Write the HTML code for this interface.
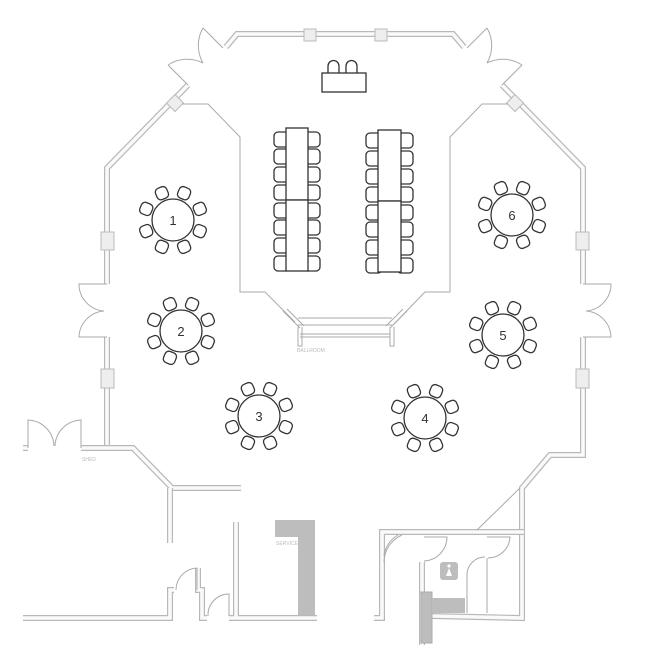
<!DOCTYPE html>
<html><head><meta charset="utf-8"><style>
html,body{margin:0;padding:0;background:#fff}
svg{display:block}
.wo{fill:none;stroke:#b8b8b8;stroke-width:6;stroke-linejoin:miter}
.wi{fill:none;stroke:#fafafa;stroke-width:3.6;stroke-linejoin:miter}
.t{fill:none;stroke:#aaa;stroke-width:1}
.f{fill:#fff;stroke:#333;stroke-width:1.3}
.n{font-family:"Liberation Sans",sans-serif;font-size:13px;fill:#333;text-anchor:middle}
.lb{font-family:"Liberation Sans",sans-serif;font-size:5px;fill:#bbb}
.win{fill:#eee;stroke:#bbb;stroke-width:1}
</style></head><body>
<svg width="660" height="660" viewBox="0 0 660 660" xmlns="http://www.w3.org/2000/svg">
<defs>
<path id="w1" d="M226,47 L237,34 L453,34 L464,47"/>
<path id="w2" d="M188,85 L107,168 L107,284"/>
<path id="w2r" d="M502,85 L583,168 L583,284"/>
<path id="w3" d="M107,337 L107,448 L133,448 L172,488 L241,488"/>
<path id="w4" d="M170,488 L170,543"/>
<path id="w5" d="M23,618 L170,618 L170,590 L174,590"/>
<path id="w6" d="M198,568 L198,590 L202,590 L202,618 L207,618"/>
<path id="w7" d="M229,618 L317,618 M236,522 L236,618"/>
<path id="w8" d="M81,448 L133,448"/>
<path id="w9" d="M583,337 L583,455 L550,455 L522,488 L522,618 L432,616"/>
<path id="w10" d="M374,618 L382,618 L382,532 L524,532"/>
<path id="w11" d="M422,562 L422,645"/>
<path id="w12" d="M23,448 L28,448"/>
<rect id="ch" x="-6" y="-35" width="12" height="12" rx="4"/>
</defs>
<g>
<use href="#w1" class="wo"/><use href="#w1" class="wi"/>
<use href="#w2" class="wo"/><use href="#w2" class="wi"/>
<use href="#w2r" class="wo"/><use href="#w2r" class="wi"/>
<use href="#w3" class="wo"/><use href="#w3" class="wi"/>
<use href="#w4" class="wo"/><use href="#w4" class="wi"/>
<use href="#w5" class="wo"/><use href="#w5" class="wi"/>
<use href="#w6" class="wo"/><use href="#w6" class="wi"/>
<use href="#w7" class="wo"/><use href="#w7" class="wi"/>
<use href="#w8" class="wo"/><use href="#w8" class="wi"/>
<use href="#w9" class="wo"/><use href="#w9" class="wi"/>
<use href="#w10" class="wo"/><use href="#w10" class="wi"/>
<use href="#w11" class="wo"/><use href="#w11" class="wi"/>
<use href="#w12" class="wo"/><use href="#w12" class="wi"/>
</g>
<!-- windows -->
<rect class="win" x="304" y="29" width="12" height="12"/>
<rect class="win" x="375" y="29" width="12" height="12"/>
<rect class="win" x="101" y="232" width="13" height="18"/>
<rect class="win" x="101" y="369" width="13" height="19"/>
<rect class="win" x="576" y="232" width="13" height="18"/>
<rect class="win" x="576" y="369" width="13" height="19"/>
<rect class="win" x="169" y="97" width="12" height="12" transform="rotate(45 175 103)"/>
<rect class="win" x="509" y="97" width="12" height="12" transform="rotate(-45 515 103)"/>
<!-- doors -->
<g class="t">
<path d="M203,28 L223,48 M203,28 A35,35 0 0 0 203,63 M168,65 L188,85 M168,65 A35,35 0 0 1 203,63"/>
<path d="M487,28 L467,48 M487,28 A35,35 0 0 1 487,63 M522,65 L502,85 M522,65 A35,35 0 0 0 487,63"/>
<path d="M107,284 H79 A27,27 0 0 0 104,311 M107,337 H79 A27,27 0 0 1 104,311"/>
<path d="M583,284 H611 A27,27 0 0 1 586,311 M583,337 H611 A27,27 0 0 0 586,311"/>
<path d="M28,448 V420 A27,27 0 0 1 54,446 M81,448 V420 A27,27 0 0 0 55,446"/>
<path d="M197,590 V568 A22,22 0 0 0 176,590 M229,616 V594 A21,21 0 0 0 208,616"/>
<path d="M424,537 H447 A24,24 0 0 1 424,561 M487,537 H510 A22,22 0 0 1 488,558 M487,558 V613"/>
<path d="M467,613 V575 A18,18 0 0 1 485,557"/>
<path d="M402,535 A30,30 0 0 0 384,562 M398,535 A28,28 0 0 0 384,556"/>
<path d="M520,488 L477,530"/>
<!-- inner ballroom outline -->
<path d="M182,104 L208,104 L240,137 L240,292 L265,292 L295,322"/>
<path d="M508,104 L482,104 L450,137 L450,292 L425,292 L393,325"/>
<!-- stage -->
<path d="M283,311 L300,328 M287,309 L304,326 M407,311 L390,328 M403,309 L386,326"/>
<path d="M298,318 H392 M298,325 H392 M300,334 H390 M300,337 H390"/>
<path d="M298,327 V346 H302 V327 M390,327 V346 H394 V327"/>
</g>
<text class="lb" x="297" y="352">BALLROOM</text>
<text class="lb" x="82" y="461">SHED</text>
<text class="lb" x="276" y="545">SERVICE</text>
<!-- gray areas -->
<path d="M275,520 H315 V615 H298 V537 H275 Z" fill="#bdbdbd"/>
<rect x="421" y="592" width="11" height="51" fill="#bdbdbd" stroke="#aaa"/>
<rect x="432" y="598" width="33" height="15" fill="#bdbdbd"/>
<rect x="440" y="562" width="18" height="18" rx="3" fill="#bdbdbd"/>
<circle cx="449" cy="566" r="1.6" fill="#fff"/>
<path d="M449,568 L446,576 H452 Z" fill="#fff"/>
<!-- head table -->
<g class="f">
<path d="M328,74 V66 A5,5 0 0 1 339,66 V74 Z"/>
<path d="M346,74 V66 A5,5 0 0 1 357,66 V74 Z"/>
<rect x="322" y="73" width="44" height="19"/>
</g>
<!-- banquet tables -->
<g class="f">
<rect x="274" y="132" width="16" height="15" rx="4"/><rect x="274" y="149" width="16" height="15" rx="4"/>
<rect x="274" y="167" width="16" height="15" rx="4"/><rect x="274" y="185" width="16" height="15" rx="4"/>
<rect x="274" y="203" width="16" height="15" rx="4"/><rect x="274" y="220" width="16" height="15" rx="4"/>
<rect x="274" y="238" width="16" height="15" rx="4"/><rect x="274" y="256" width="16" height="15" rx="4"/>
<rect x="304" y="132" width="16" height="15" rx="4"/><rect x="304" y="149" width="16" height="15" rx="4"/>
<rect x="304" y="167" width="16" height="15" rx="4"/><rect x="304" y="185" width="16" height="15" rx="4"/>
<rect x="304" y="203" width="16" height="15" rx="4"/><rect x="304" y="220" width="16" height="15" rx="4"/>
<rect x="304" y="238" width="16" height="15" rx="4"/><rect x="304" y="256" width="16" height="15" rx="4"/>
<rect x="286" y="128" width="22" height="72"/><rect x="286" y="200" width="22" height="71"/>
<rect x="366" y="133" width="16" height="15" rx="4"/><rect x="366" y="151" width="16" height="15" rx="4"/>
<rect x="366" y="169" width="16" height="15" rx="4"/><rect x="366" y="187" width="16" height="15" rx="4"/>
<rect x="366" y="205" width="16" height="15" rx="4"/><rect x="366" y="222" width="16" height="15" rx="4"/>
<rect x="366" y="240" width="16" height="15" rx="4"/><rect x="366" y="258" width="16" height="15" rx="4"/>
<rect x="397" y="133" width="16" height="15" rx="4"/><rect x="397" y="151" width="16" height="15" rx="4"/>
<rect x="397" y="169" width="16" height="15" rx="4"/><rect x="397" y="187" width="16" height="15" rx="4"/>
<rect x="397" y="205" width="16" height="15" rx="4"/><rect x="397" y="222" width="16" height="15" rx="4"/>
<rect x="397" y="240" width="16" height="15" rx="4"/><rect x="397" y="258" width="16" height="15" rx="4"/>
<rect x="378" y="130" width="23" height="71"/><rect x="378" y="201" width="23" height="71"/>
</g>
<!-- round tables -->
<g class="f" transform="translate(173,220)">
<use href="#ch" transform="rotate(22.5)"/><use href="#ch" transform="rotate(67.5)"/><use href="#ch" transform="rotate(112.5)"/><use href="#ch" transform="rotate(157.5)"/><use href="#ch" transform="rotate(202.5)"/><use href="#ch" transform="rotate(247.5)"/><use href="#ch" transform="rotate(292.5)"/><use href="#ch" transform="rotate(337.5)"/>
<circle r="21"/></g>
<g class="f" transform="translate(181,331)">
<use href="#ch" transform="rotate(22.5)"/><use href="#ch" transform="rotate(67.5)"/><use href="#ch" transform="rotate(112.5)"/><use href="#ch" transform="rotate(157.5)"/><use href="#ch" transform="rotate(202.5)"/><use href="#ch" transform="rotate(247.5)"/><use href="#ch" transform="rotate(292.5)"/><use href="#ch" transform="rotate(337.5)"/>
<circle r="21"/></g>
<g class="f" transform="translate(259,416)">
<use href="#ch" transform="rotate(22.5)"/><use href="#ch" transform="rotate(67.5)"/><use href="#ch" transform="rotate(112.5)"/><use href="#ch" transform="rotate(157.5)"/><use href="#ch" transform="rotate(202.5)"/><use href="#ch" transform="rotate(247.5)"/><use href="#ch" transform="rotate(292.5)"/><use href="#ch" transform="rotate(337.5)"/>
<circle r="21"/></g>
<g class="f" transform="translate(425,418)">
<use href="#ch" transform="rotate(22.5)"/><use href="#ch" transform="rotate(67.5)"/><use href="#ch" transform="rotate(112.5)"/><use href="#ch" transform="rotate(157.5)"/><use href="#ch" transform="rotate(202.5)"/><use href="#ch" transform="rotate(247.5)"/><use href="#ch" transform="rotate(292.5)"/><use href="#ch" transform="rotate(337.5)"/>
<circle r="21"/></g>
<g class="f" transform="translate(503,335)">
<use href="#ch" transform="rotate(22.5)"/><use href="#ch" transform="rotate(67.5)"/><use href="#ch" transform="rotate(112.5)"/><use href="#ch" transform="rotate(157.5)"/><use href="#ch" transform="rotate(202.5)"/><use href="#ch" transform="rotate(247.5)"/><use href="#ch" transform="rotate(292.5)"/><use href="#ch" transform="rotate(337.5)"/>
<circle r="21"/></g>
<g class="f" transform="translate(512,215)">
<use href="#ch" transform="rotate(22.5)"/><use href="#ch" transform="rotate(67.5)"/><use href="#ch" transform="rotate(112.5)"/><use href="#ch" transform="rotate(157.5)"/><use href="#ch" transform="rotate(202.5)"/><use href="#ch" transform="rotate(247.5)"/><use href="#ch" transform="rotate(292.5)"/><use href="#ch" transform="rotate(337.5)"/>
<circle r="21"/></g>
<text class="n" x="173" y="225">1</text>
<text class="n" x="181" y="336">2</text>
<text class="n" x="259" y="421">3</text>
<text class="n" x="425" y="423">4</text>
<text class="n" x="503" y="340">5</text>
<text class="n" x="512" y="220">6</text>
</svg>
</body></html>
